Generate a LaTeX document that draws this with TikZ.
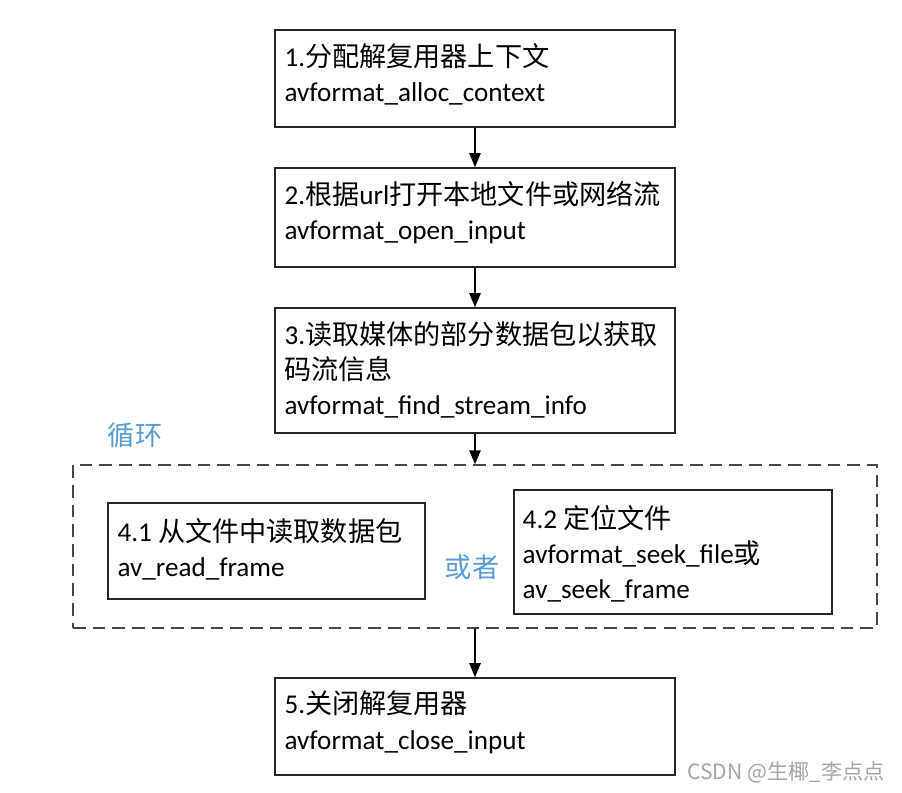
\documentclass[tikz,border=0pt]{standalone}
\usepackage{fontspec}
\setmainfont{Carlito}
\newfontfamily\cjk{Noto Sans CJK SC}
\usetikzlibrary{arrows.meta, positioning, calc}
\definecolor{loopblue}{RGB}{91,155,213}
\definecolor{framegray}{RGB}{70,70,70}
\definecolor{markgray}{RGB}{165,165,165}
\newcommand{\zh}[1]{{\cjk #1}}

\begin{document}
\begin{tikzpicture}[x=0.025cm, y=-0.025cm,
    stepbox/.style={draw=black!85, line width=1pt, rectangle, minimum width=10cm},
    steptext/.style={inner sep=0pt, align=left, font=\fontsize{19.3}{25}\selectfont},
    loopframe/.style={draw=framegray, line width=0.9pt, dash pattern=on 9pt off 5pt, rectangle},
    flow/.style={-{Triangle[length=10pt,width=8pt]}, line width=1.2pt},
    bluelabel/.style={text=loopblue, font=\fontsize{19.3}{25}\selectfont\cjk}]
    \useasboundingbox (0,0) rectangle (902,793);

    % Main steps
    \node[stepbox, minimum height=2.425cm] (s1) at (475,78.5) {};
    \node[steptext, below right=3.4mm and 2.5mm of s1.north west] (t1) {1.\zh{分配解复用器上下文}\\avformat\_alloc\_context};

    \node[stepbox, minimum height=2.475cm] (s2) at (475,217.5) {};
    \node[steptext, below right=3.4mm and 2.5mm of s2.north west] (t2) {2.\zh{根据}url\zh{打开本地文件或网络流}\\avformat\_open\_input};

    \node[stepbox, minimum height=3.125cm] (s3) at (475,370.5) {};
    \node[steptext, below right=3.4mm and 2.5mm of s3.north west] (t3) {3.\zh{读取媒体的部分数据包以获取}\\\zh{码流信息}\\avformat\_find\_stream\_info};

    % Loop
    \node[loopframe, minimum width=20.1cm, minimum height=4.075cm] (loop) at (475,546.5) {};
    \node[bluelabel] (looptitle) at (135,435) {循环};

    \node[stepbox, minimum width=7.925cm, minimum height=2.4cm] (s41) at (266.5,551) {};
    \node[steptext, below right=3.9mm and 2.5mm of s41.north west] (t41) {4.1 \zh{从文件中读取数据包}\\av\_read\_frame};

    \node[bluelabel] (orlabel) at (472,567) {或者};

    \node[stepbox, minimum width=7.95cm, minimum height=3.1cm] (s42) at (673,552) {};
    \node[steptext, below right=3.9mm and 2.3mm of s42.north west] (t42) {4.2 \zh{定位文件}\\avformat\_seek\_file\zh{或}\\av\_seek\_frame};

    % Close
    \node[stepbox, minimum height=2.425cm] (s5) at (475,726.5) {};
    \node[steptext, below right=3.4mm and 2.5mm of s5.north west] (t5) {5.\zh{关闭解复用器}\\avformat\_close\_input};

    \node[text=markgray, font=\fontsize{15}{18}\selectfont\cjk] (mark) at (786,772) {CSDN @生椰\_李点点};

    % Arrows
    \draw[flow] (s1) -- (s2);
    \draw[flow] (s2) -- (s3);
    \draw[flow] (s3) -- (loop);
    \draw[flow] (loop) -- (s5);
\end{tikzpicture}
\end{document}
